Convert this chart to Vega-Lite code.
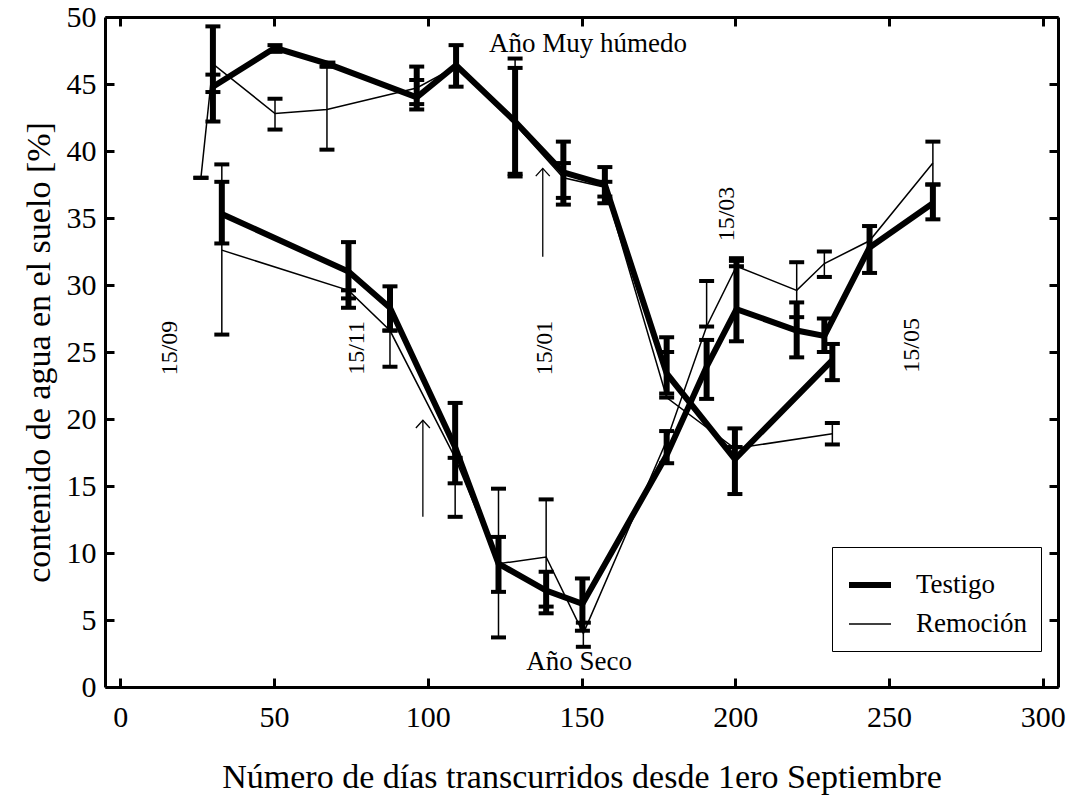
{
  "$schema": "https://vega.github.io/schema/vega-lite/v6.json",
  "width": 953,
  "height": 670,
  "autosize": {"type": "none"},
  "padding": {"left": 105, "top": 17, "right": 15, "bottom": 112},
  "background": "white",
  "config": {
    "view": {"stroke": null},
    "font": "Liberation Serif",
    "axis": {
      "grid": false,
      "domainColor": "black",
      "domainWidth": 3,
      "tickColor": "black",
      "tickWidth": 3,
      "labelFont": "Liberation Serif",
      "labelFontSize": 30,
      "labelColor": "black",
      "titleFont": "Liberation Serif",
      "titleFontSize": 34,
      "titleFontWeight": "normal",
      "titleColor": "black"
    },
    "legend": {
      "orient": "none",
      "legendX": 727,
      "legendY": 530,
      "padding": 14,
      "fillColor": "white",
      "strokeColor": "black",
      "strokeWidth": 1,
      "symbolType": "stroke",
      "symbolSize": 1764,
      "symbolStrokeColor": "black",
      "labelFont": "Liberation Serif",
      "labelFontSize": 27,
      "labelColor": "black",
      "labelOffset": 22,
      "rowPadding": 4
    }
  },
  "datasets": {
    "pts": [
      {"trat": "Testigo", "anio": "humedo", "x": 30.1, "y": 44.8, "lo": 42.2, "hi": 49.3},
      {"trat": "Testigo", "anio": "humedo", "x": 50.3, "y": 47.7, "lo": 47.4, "hi": 47.9},
      {"trat": "Testigo", "anio": "humedo", "x": 67.5, "y": 46.5, "lo": 46.3, "hi": 46.6},
      {"trat": "Testigo", "anio": "humedo", "x": 96.4, "y": 44.0, "lo": 43.1, "hi": 46.3},
      {"trat": "Testigo", "anio": "humedo", "x": 109.2, "y": 46.4, "lo": 44.8, "hi": 47.9},
      {"trat": "Testigo", "anio": "humedo", "x": 128.4, "y": 42.2, "lo": 38.1, "hi": 46.2},
      {"trat": "Testigo", "anio": "humedo", "x": 144.1, "y": 38.4, "lo": 36.0, "hi": 40.7},
      {"trat": "Testigo", "anio": "humedo", "x": 157.6, "y": 37.5, "lo": 36.1, "hi": 38.8},
      {"trat": "Testigo", "anio": "humedo", "x": 177.7, "y": 23.4, "lo": 21.9, "hi": 26.1},
      {"trat": "Testigo", "anio": "humedo", "x": 199.9, "y": 17.0, "lo": 14.4, "hi": 19.3},
      {"trat": "Testigo", "anio": "humedo", "x": 231.6, "y": 24.4, "lo": 22.9, "hi": 25.6},
      {"trat": "Remoción", "anio": "humedo", "x": 26.2, "y": 38.0, "lo": 38.0, "hi": 38.0},
      {"trat": "Remoción", "anio": "humedo", "x": 30.1, "y": 46.5, "lo": 44.4, "hi": 45.7},
      {"trat": "Remoción", "anio": "humedo", "x": 50.3, "y": 42.8, "lo": 41.6, "hi": 43.9},
      {"trat": "Remoción", "anio": "humedo", "x": 67.2, "y": 43.1, "lo": 40.1, "hi": 46.3},
      {"trat": "Remoción", "anio": "humedo", "x": 96.4, "y": 44.7, "lo": 43.5, "hi": 45.3},
      {"trat": "Remoción", "anio": "humedo", "x": 109.2, "y": 46.3, "lo": null, "hi": null},
      {"trat": "Remoción", "anio": "humedo", "x": 128.4, "y": 42.0, "lo": 38.3, "hi": 46.9},
      {"trat": "Remoción", "anio": "humedo", "x": 144.1, "y": 38.0, "lo": 36.5, "hi": 39.1},
      {"trat": "Remoción", "anio": "humedo", "x": 157.6, "y": 37.3, "lo": 36.6, "hi": 37.7},
      {"trat": "Remoción", "anio": "humedo", "x": 177.7, "y": 21.6, "lo": 21.6, "hi": 25.0},
      {"trat": "Remoción", "anio": "humedo", "x": 199.9, "y": 17.8, "lo": 17.9, "hi": 17.9},
      {"trat": "Remoción", "anio": "humedo", "x": 231.6, "y": 18.9, "lo": 18.1, "hi": 19.7},
      {"trat": "Testigo", "anio": "seco", "x": 33.0, "y": 35.3, "lo": 33.1, "hi": 37.7},
      {"trat": "Testigo", "anio": "seco", "x": 74.2, "y": 31.0, "lo": 28.3, "hi": 33.2},
      {"trat": "Testigo", "anio": "seco", "x": 87.7, "y": 28.3, "lo": 26.6, "hi": 29.9},
      {"trat": "Testigo", "anio": "seco", "x": 108.9, "y": 17.9, "lo": 15.2, "hi": 21.2},
      {"trat": "Testigo", "anio": "seco", "x": 123.0, "y": 9.2, "lo": 7.1, "hi": 11.2},
      {"trat": "Testigo", "anio": "seco", "x": 138.5, "y": 7.2, "lo": 5.5, "hi": 8.6},
      {"trat": "Testigo", "anio": "seco", "x": 150.3, "y": 6.2, "lo": 4.2, "hi": 8.1},
      {"trat": "Testigo", "anio": "seco", "x": 177.7, "y": 17.3, "lo": 16.7, "hi": 19.1},
      {"trat": "Testigo", "anio": "seco", "x": 190.7, "y": 23.9, "lo": 21.5, "hi": 25.9},
      {"trat": "Testigo", "anio": "seco", "x": 200.4, "y": 28.2, "lo": 25.8, "hi": 31.8},
      {"trat": "Testigo", "anio": "seco", "x": 220.0, "y": 26.6, "lo": 24.6, "hi": 28.7},
      {"trat": "Testigo", "anio": "seco", "x": 229.0, "y": 26.2, "lo": 25.0, "hi": 27.5},
      {"trat": "Testigo", "anio": "seco", "x": 243.7, "y": 32.8, "lo": 30.9, "hi": 34.4},
      {"trat": "Testigo", "anio": "seco", "x": 264.3, "y": 36.1, "lo": 34.9, "hi": 37.5},
      {"trat": "Remoción", "anio": "seco", "x": 33.0, "y": 32.6, "lo": 26.3, "hi": 39.0},
      {"trat": "Remoción", "anio": "seco", "x": 74.2, "y": 29.6, "lo": 29.0, "hi": 29.6},
      {"trat": "Remoción", "anio": "seco", "x": 87.7, "y": 26.6, "lo": 23.9, "hi": 26.6},
      {"trat": "Remoción", "anio": "seco", "x": 108.9, "y": 17.1, "lo": 12.7, "hi": 17.1},
      {"trat": "Remoción", "anio": "seco", "x": 123.0, "y": 9.2, "lo": 3.7, "hi": 14.8},
      {"trat": "Remoción", "anio": "seco", "x": 138.5, "y": 9.7, "lo": 6.0, "hi": 14.0},
      {"trat": "Remoción", "anio": "seco", "x": 150.6, "y": 4.0, "lo": 3.0, "hi": 4.8},
      {"trat": "Remoción", "anio": "seco", "x": 177.7, "y": 18.4, "lo": null, "hi": null},
      {"trat": "Remoción", "anio": "seco", "x": 190.7, "y": 26.9, "lo": 26.9, "hi": 30.3},
      {"trat": "Remoción", "anio": "seco", "x": 200.4, "y": 31.4, "lo": 31.4, "hi": 32.0},
      {"trat": "Remoción", "anio": "seco", "x": 220.0, "y": 29.6, "lo": 27.6, "hi": 31.7},
      {"trat": "Remoción", "anio": "seco", "x": 229.0, "y": 31.6, "lo": 30.6, "hi": 32.5},
      {"trat": "Remoción", "anio": "seco", "x": 243.7, "y": 33.3, "lo": null, "hi": null},
      {"trat": "Remoción", "anio": "seco", "x": 264.3, "y": 39.1, "lo": 37.5, "hi": 40.7}
    ],
    "fechas": [
      {"t": "15/09", "x": 16.2, "y": 25.3},
      {"t": "15/11", "x": 77.0, "y": 25.3},
      {"t": "15/01", "x": 138.1, "y": 25.3},
      {"t": "15/03", "x": 197.3, "y": 35.3},
      {"t": "15/05", "x": 257.4, "y": 25.5}
    ],
    "rotulos": [
      {"t": "Año Muy húmedo", "x": 152.1, "y": 48.0},
      {"t": "Año Seco", "x": 149.2, "y": 1.9}
    ],
    "flechas": [
      {"x": 98.4, "y0": 12.7, "y1": 19.9},
      {"x": 137.4, "y0": 32.1, "y1": 38.7}
    ]
  },
  "layer": [
    {
      "data": {"name": "pts"},
      "mark": {"type": "line", "color": "black", "strokeJoin": "miter"},
      "encoding": {
        "x": {
          "field": "x", "type": "quantitative",
          "scale": {"domain": [-5, 305], "nice": false, "zero": false},
          "axis": {
            "orient": "bottom",
            "values": [0, 50, 100, 150, 200, 250, 300],
            "tickSize": -9,
            "labelPadding": 24,
            "title": "Número de días transcurridos desde 1ero Septiembre",
            "titlePadding": 28
          }
        },
        "y": {
          "field": "y", "type": "quantitative",
          "scale": {"domain": [0, 50], "nice": false, "zero": false},
          "axis": {
            "orient": "left",
            "values": [0, 5, 10, 15, 20, 25, 30, 35, 40, 45, 50],
            "tickSize": -9,
            "labelPadding": 18,
            "title": "contenido de agua en el suelo [%]",
            "titlePadding": 10
          }
        },
        "detail": {"field": "anio"},
        "strokeWidth": {
          "field": "trat", "type": "nominal",
          "scale": {"domain": ["Testigo", "Remoción"], "range": [6, 1.5]},
          "legend": {"title": null}
        }
      }
    },
    {
      "data": {"name": "pts"},
      "transform": [{"filter": "datum.lo != null"}],
      "mark": {"type": "rule", "color": "black"},
      "encoding": {
        "x": {
          "field": "x", "type": "quantitative",
          "axis": {"orient": "top", "values": [0, 50, 100, 150, 200, 250, 300], "labels": false, "tickSize": -9, "title": null}
        },
        "y": {
          "field": "lo", "type": "quantitative",
          "axis": {"orient": "right", "values": [0, 5, 10, 15, 20, 25, 30, 35, 40, 45, 50], "labels": false, "tickSize": -9, "title": null}
        },
        "y2": {"field": "hi"},
        "strokeWidth": {"field": "trat", "type": "nominal"}
      }
    },
    {
      "data": {"name": "pts"},
      "transform": [{"filter": "datum.lo != null"}],
      "mark": {"type": "tick", "orient": "horizontal", "color": "black", "thickness": 4, "size": 15, "opacity": 1},
      "encoding": {
        "x": {"field": "x", "type": "quantitative", "axis": null},
        "y": {"field": "lo", "type": "quantitative", "axis": null}
      }
    },
    {
      "data": {"name": "pts"},
      "transform": [{"filter": "datum.hi != null"}],
      "mark": {"type": "tick", "orient": "horizontal", "color": "black", "thickness": 4, "size": 15, "opacity": 1},
      "encoding": {
        "x": {"field": "x", "type": "quantitative", "axis": null},
        "y": {"field": "hi", "type": "quantitative", "axis": null}
      }
    },
    {
      "data": {"name": "flechas"},
      "mark": {"type": "rule", "color": "black", "strokeWidth": 1.3},
      "encoding": {
        "x": {"field": "x", "type": "quantitative", "axis": null},
        "y": {"field": "y0", "type": "quantitative", "axis": null},
        "y2": {"field": "y1"}
      }
    },
    {
      "data": {"name": "flechas"},
      "mark": {"type": "point", "shape": "M-1,1.1L0,0L1,1.1", "filled": false, "stroke": "black", "strokeWidth": 1.3, "size": 196, "opacity": 1},
      "encoding": {
        "x": {"field": "x", "type": "quantitative", "axis": null},
        "y": {"field": "y1", "type": "quantitative", "axis": null}
      }
    },
    {
      "data": {"name": "fechas"},
      "mark": {"type": "text", "angle": 270, "align": "center", "baseline": "middle", "font": "Liberation Serif", "fontSize": 24, "color": "black"},
      "encoding": {
        "x": {"field": "x", "type": "quantitative", "axis": null},
        "y": {"field": "y", "type": "quantitative", "axis": null},
        "text": {"field": "t"}
      }
    },
    {
      "data": {"name": "rotulos"},
      "mark": {"type": "text", "align": "center", "baseline": "middle", "font": "Liberation Serif", "fontSize": 27, "color": "black"},
      "encoding": {
        "x": {"field": "x", "type": "quantitative", "axis": null},
        "y": {"field": "y", "type": "quantitative", "axis": null},
        "text": {"field": "t"}
      }
    }
  ]
}
